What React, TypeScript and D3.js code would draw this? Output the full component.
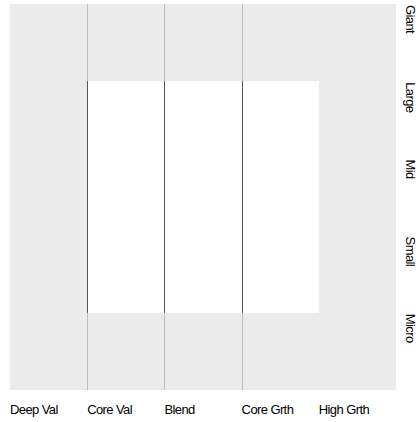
import React from "react";
import * as d3 from "d3";

const styleCols = ["Deep Val", "Core Val", "Blend", "Core Grth", "High Grth"];
const sizeRows = ["Giant", "Large", "Mid", "Small", "Micro"];
// ownership zone: column/row index ranges
const zoneCols = ["Core Val", "Core Grth"];
const zoneRows = ["Large", "Small"];
// vertical divider lines at left edge of these columns
const dividerCols = ["Core Val", "Blend", "Core Grth"];

const W = 419;
const H = 422;

export default function App() {
  const x = d3.scaleBand<string>().domain(styleCols).range([10, 396]);
  const y = d3.scaleBand<string>().domain(sizeRows).range([4, 390]);
  const zx0 = x(zoneCols[0])!;
  const zx1 = x(zoneCols[1])! + x.bandwidth();
  const zy0 = y(zoneRows[0])!;
  const zy1 = y(zoneRows[1])! + y.bandwidth();
  const font = "'Liberation Sans', Arial, sans-serif";
  return (
    <svg width={W} height={H} style={{ position: "absolute", left: 0, top: 0, background: "#fff" }}>
      <rect x={10} y={4} width={386} height={386} fill="#ebebeb" />
      <rect x={zx0} y={zy0} width={zx1 - zx0} height={zy1 - zy0} fill="#ffffff" />
      {dividerCols.map((c) => {
        const xx = Math.round(x(c)!) + 0.5;
        return (
          <g key={c}>
            <line x1={xx} x2={xx} y1={4} y2={390} stroke="#bdbdbd" strokeWidth={1} />
            <line x1={xx} x2={xx} y1={zy0} y2={zy1} stroke="#555" strokeWidth={1} />
          </g>
        );
      })}
      {styleCols.map((c) => (
        <text key={c} x={x(c)!} y={414} fontSize={13} fontFamily={font} letterSpacing={-0.6} fill="#000">
          {c}
        </text>
      ))}
      {sizeRows.map((r) => (
        <text
          key={r}
          transform={`translate(406,${y(r)! + 1}) rotate(90)`}
          fontSize={13}
          fontFamily={font}
          letterSpacing={-0.6}
          fill="#000"
        >
          {r}
        </text>
      ))}
    </svg>
  );
}
